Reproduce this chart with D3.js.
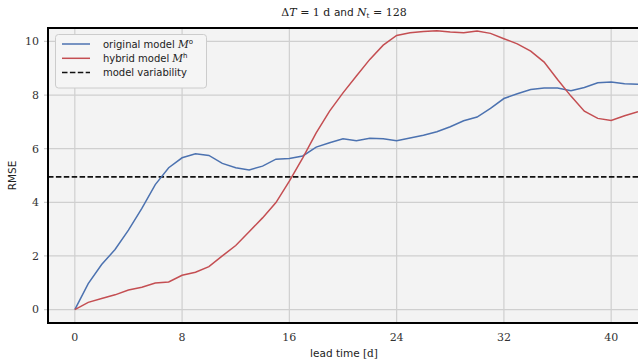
<!DOCTYPE html>
<html>
<head>
<meta charset="utf-8">
<script src="https://cdn.jsdelivr.net/npm/d3@7"></script>
<style>
  body { margin: 0; background: #fff; }
  svg { display: block; }
</style>
</head>
<body>
<div id="main"></div>
<script>
const ctx = {
    w: 638,
    h: 360,
    left: 48,
    right: 640,
    top: 28,
    bottom: 323
}

// lead time in days
const leadTime = d3.range(0, 43)
// RMSE of the original model
const original = [0, 0.97, 1.68, 2.24, 2.96, 3.77, 4.66, 5.29, 5.66, 5.81, 5.75, 5.45, 5.29, 5.21, 5.35,
    5.61, 5.63, 5.73, 6.06, 6.22, 6.37, 6.30, 6.39, 6.37, 6.30, 6.40, 6.50, 6.63, 6.82, 7.04, 7.18,
    7.50, 7.87, 8.05, 8.21, 8.26, 8.26, 8.16, 8.28, 8.46, 8.49, 8.42, 8.40]
// RMSE of the hybrid model
const hybrid = [0, 0.27, 0.41, 0.55, 0.73, 0.83, 0.99, 1.03, 1.28, 1.39, 1.60, 2.00, 2.39, 2.90, 3.42,
    3.99, 4.79, 5.66, 6.59, 7.40, 8.08, 8.71, 9.33, 9.86, 10.22, 10.32, 10.37, 10.40, 10.35, 10.32, 10.39,
    10.30, 10.10, 9.91, 9.64, 9.23, 8.58, 7.96, 7.40, 7.13, 7.05, 7.23, 7.38]
const variability = 4.95
const xTicks = [0, 8, 16, 24, 32, 40]
const yTicks = [0, 2, 4, 6, 8, 10]

const serif = "'DejaVu Serif', serif"
const sans = "'DejaVu Sans', sans-serif"

function createViz() {
    let svg = d3.select('#main').append('svg')
        .attr('width', ctx.w)
        .attr('height', ctx.h)

    let x = d3.scaleLinear().domain([-2, 42.15]).range([ctx.left, ctx.right])
    let y = d3.scaleLinear().domain([-0.5, 10.5]).range([ctx.bottom, ctx.top])

    // plot background
    svg.append('rect')
        .attr('x', ctx.left).attr('y', ctx.top)
        .attr('width', ctx.right - ctx.left).attr('height', ctx.bottom - ctx.top)
        .attr('fill', '#f3f3f3')

    // grid
    let grid = svg.append('g')
    grid.selectAll('.vg').data(xTicks).join('line')
        .attr('x1', d => x(d)).attr('x2', d => x(d))
        .attr('y1', ctx.top).attr('y2', ctx.bottom)
        .attr('stroke', '#cfcfcf').attr('stroke-width', 1.2)
    grid.selectAll('.hg').data(yTicks).join('line')
        .attr('x1', ctx.left - 4).attr('x2', ctx.right)
        .attr('y1', d => y(d)).attr('y2', d => y(d))
        .attr('stroke', '#cfcfcf').attr('stroke-width', 1.2)

    // tick labels
    svg.append('g').selectAll('text').data(yTicks).join('text')
        .attr('x', 39).attr('y', d => y(d)).attr('dy', '0.35em')
        .attr('text-anchor', 'end')
        .attr('font-family', serif).attr('font-size', 11).attr('fill', '#333')
        .text(d => d)
    svg.append('g').selectAll('text').data(xTicks).join('text')
        .attr('x', d => x(d)).attr('y', 341)
        .attr('text-anchor', 'middle')
        .attr('font-family', serif).attr('font-size', 11).attr('fill', '#333')
        .text(d => d)

    // axis labels
    svg.append('text')
        .attr('x', (ctx.left + ctx.right) / 2).attr('y', 357)
        .attr('text-anchor', 'middle')
        .attr('font-family', sans).attr('font-size', 10.5).attr('fill', '#222')
        .text('lead time ')
        .append('tspan').attr('font-family', serif).text('[d]')
    svg.append('text')
        .attr('transform', `translate(16,${(ctx.top + ctx.bottom) / 2}) rotate(-90)`)
        .attr('text-anchor', 'middle')
        .attr('font-family', sans).attr('font-size', 10.5).attr('fill', '#222')
        .text('RMSE')

    // title
    let title = svg.append('text')
        .attr('x', (ctx.left + ctx.right) / 2).attr('y', 16)
        .attr('text-anchor', 'middle')
        .attr('font-family', serif).attr('font-size', 11).attr('fill', '#222')
    title.append('tspan').text('Δ')
    title.append('tspan').attr('font-style', 'italic').text('T')
    title.append('tspan').text(' = 1 d ')
    title.append('tspan').attr('font-family', sans).attr('font-size', 10.5).text('and ')
    title.append('tspan').attr('font-style', 'italic').text('N')
    title.append('tspan').attr('font-size', 7).attr('dy', 2).text('t')
    title.append('tspan').attr('dy', -2).text(' = 128')

    // clip to plot area
    svg.append('clipPath').attr('id', 'clip')
        .append('rect')
        .attr('x', ctx.left).attr('y', ctx.top)
        .attr('width', ctx.right - ctx.left).attr('height', ctx.bottom - ctx.top)
    let plot = svg.append('g').attr('clip-path', 'url(#clip)')

    plot.append('line')
        .attr('x1', ctx.left).attr('x2', ctx.right)
        .attr('y1', y(variability)).attr('y2', y(variability))
        .attr('stroke', '#111').attr('stroke-width', 1.6)
        .attr('stroke-dasharray', '5.5,2.4')

    let line = d3.line()
        .x((d, i) => x(leadTime[i]))
        .y(d => y(d))

    plot.append('path')
        .datum(original)
        .attr('fill', 'none')
        .attr('stroke', '#4c72b0')
        .attr('stroke-width', 1.5)
        .attr('d', line)
    plot.append('path')
        .datum(hybrid)
        .attr('fill', 'none')
        .attr('stroke', '#c44e52')
        .attr('stroke-width', 1.5)
        .attr('d', line)

    // frame
    svg.append('rect')
        .attr('x', ctx.left).attr('y', ctx.top)
        .attr('width', ctx.right - ctx.left).attr('height', ctx.bottom - ctx.top)
        .attr('fill', 'none').attr('stroke', '#000').attr('stroke-width', 2)

    // legend
    let legend = svg.append('g')
    legend.append('rect')
        .attr('x', 55.5).attr('y', 34.5).attr('width', 151).attr('height', 27 + 0)
        .attr('height', 27.5)
        .attr('rx', 3)
        .attr('fill', '#f5f5f5').attr('stroke', '#cccccc').attr('stroke-width', 1)
    let items = [
        { name: 'original model ', sup: 'o', color: '#4c72b0', dash: null },
        { name: 'hybrid model ', sup: 'h', color: '#c44e52', dash: null },
        { name: 'model variability', sup: null, color: '#111', dash: '5.5,2.4' }
    ]
    legend.select('rect').attr('height', 53.5)
    let row = legend.selectAll('.row').data(items).join('g')
        .attr('transform', (d, i) => `translate(0,${44 + i * 14.3})`)
    row.append('line')
        .attr('x1', 62).attr('x2', 90)
        .attr('stroke', d => d.color).attr('stroke-width', 1.5)
        .attr('stroke-dasharray', d => d.dash)
    let lt = row.append('text')
        .attr('x', 103).attr('dy', '0.35em')
        .attr('font-family', sans).attr('font-size', 10).attr('fill', '#222')
        .text(d => d.name)
    lt.filter(d => d.sup).append('tspan')
        .attr('font-family', serif).attr('font-style', 'italic').attr('font-size', 10.5)
        .text('M')
    lt.filter(d => d.sup).append('tspan')
        .attr('font-family', sans).attr('font-size', 7).attr('dy', -4)
        .text(d => d.sup)
}

createViz()
</script>
</body>
</html>
